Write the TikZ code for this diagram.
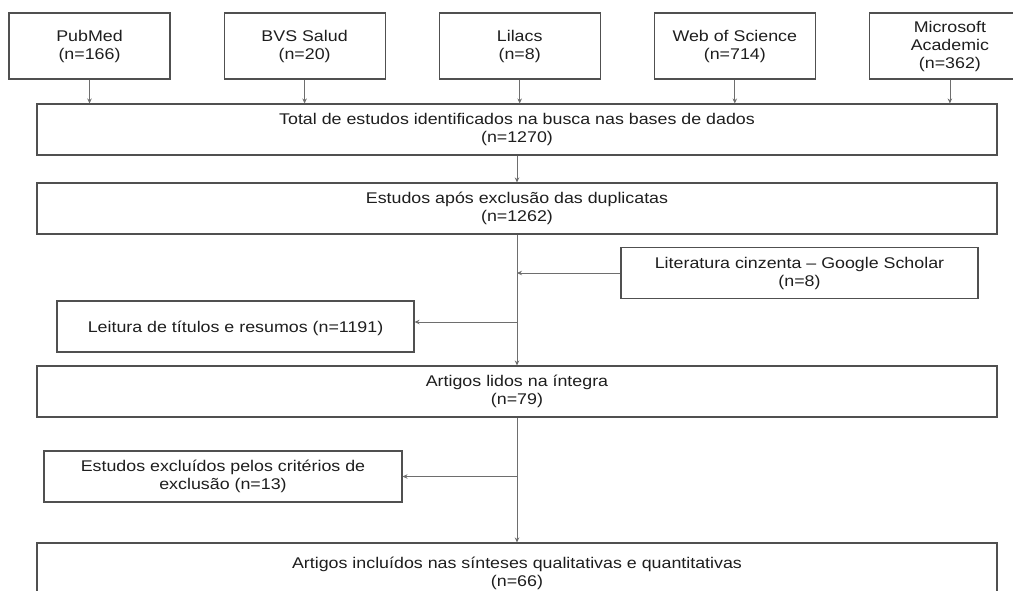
\documentclass[tikz,border=0pt]{standalone}
\usepackage{xcolor}
\usepackage{fontspec}
\setmainfont{Liberation Sans}[FakeStretch=1.15]
\usetikzlibrary{arrows.meta, positioning}

\definecolor{boxline}{HTML}{505050}
\definecolor{linkline}{HTML}{6E6E6E}
\definecolor{txt}{HTML}{1E1E1E}

\begin{document}
\begin{tikzpicture}[x=1pt, y=-1pt, >={Stealth[length=5pt, width=4.5pt]},
    base/.style={rectangle, draw=boxline, line width=1.1pt, fill=white, text=txt, align=center, inner sep=0pt, font=\fontsize{15.5}{18}\selectfont, execute at begin node={\rule{0pt}{15.5pt}}},
    src/.style={base, minimum width=161pt, minimum height=66pt},
    wide/.style={base, minimum width=960pt, minimum height=51pt},
    side/.style={base, minimum width=357pt, minimum height=51pt},
    link/.style={->, draw=linkline, line width=0.8pt}]

    \useasboundingbox (0,0) rectangle (1013,590);
    \clip (0,0) rectangle (1013,590);

    % bases de dados
    \node [src] (pubmed) at (89.5,46) {PubMed\\(n=166)};
    \node [src, right=53pt of pubmed] (bvs) {BVS Salud\\(n=20)};
    \node [src, right=53pt of bvs] (lilacs) {Lilacs\\(n=8)};
    \node [src, right=53pt of lilacs] (wos) {Web of Science\\(n=714)};
    \node [src, right=53pt of wos] (msa) {Microsoft\\Academic\\(n=362)};

    % fluxo principal
    \node [wide] (total) at (517,129.5) {Total de estudos identificados na busca nas bases de dados\\(n=1270)};
    \node [wide] (dup) at (517,208.5) {Estudos após exclusão das duplicatas\\(n=1262)};
    \node [side] (grey) at (799.5,273) {Literatura cinzenta -- Google Scholar\\(n=8)};
    \node [side] (titles) at (235.5,326.5) {Leitura de títulos e resumos (n=1191)};
    \node [wide] (fulltext) at (517,391.5) {Artigos lidos na íntegra\\(n=79)};
    \node [side, minimum width=358pt] (excluded) at (223,476.5) {Estudos excluídos pelos critérios de\\exclusão (n=13)};
    \node [wide, minimum height=61pt] (included) at (517,573.5) {Artigos incluídos nas sínteses qualitativas e quantitativas\\(n=66)};

    \foreach \db in {pubmed,bvs,lilacs,wos,msa}
        \draw[link] (\db.south) -- (\db.south |- total.north);
    \draw[link] (total) -- (dup);
    \draw[link] (dup) -- (fulltext);
    \draw[link] (grey.west) -- (grey.west -| dup);
    \coordinate (split) at (517,322);
    \draw[link] (split) -- (split -| titles.east);
    \draw[link] (fulltext) -- (included);
    \draw[link] (excluded -| fulltext) -- (excluded.east);
\end{tikzpicture}
\end{document}
